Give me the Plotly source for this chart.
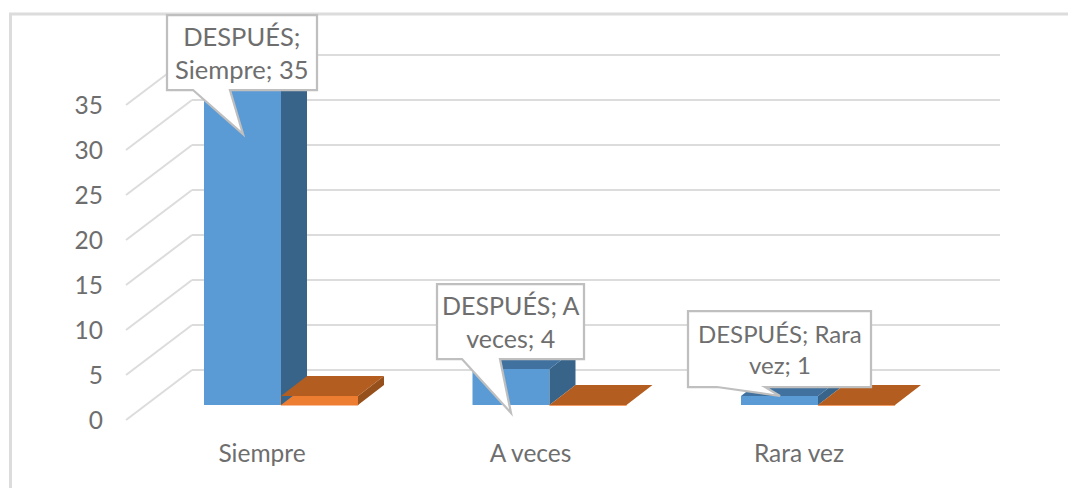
import plotly.graph_objects as go

# ---- data ----
categories = ["Siempre", "A veces", "Rara vez"]
despues = [35, 4, 1]
antes = [1, 0, 0]
axis_ticks = [0, 5, 10, 15, 20, 25, 30, 35]
callout_lines = ["DESPUÉS;<br>Siempre; 35", "DESPUÉS; A<br>veces; 4", "DESPUÉS; Rara<br>vez; 1"]

# ---- layout geometry (pixels of the 1068x488 page) ----
W, H = 1068, 488
PLOT_BOTTOM = 436
CAT_X0, CAT_STEP = 262, 268.5
ZERO_Y, ZERO_Y_AXIS, UNIT = 405, 420, 9

def xd(px):
    return (px - CAT_X0) / CAT_STEP

def xp(px):
    return px / W

def yp(py):
    return 1 - py / PLOT_BOTTOM

BAR_W = 77 / CAT_STEP
BLUE_OFF = xd(204)
ORANGE_OFF = xd(281)
DX = 26 / CAT_STEP
DY = 20 / UNIT
WALL_FRONT = xd(126)
WALL_BACK = xd(192)
WALL_END = xd(1000)
WALL_RISE = 50 / UNIT

FONT = "Lato, Carlito, Calibri, sans-serif"
TXT = "#6e6e6e"
GRID = "#dcdcdc"


def faces(values, offset):
    sx, sy, tx, ty = [], [], [], []
    for i, v in enumerate(values):
        x0 = i + offset
        x1 = x0 + BAR_W
        sx += [x1, x1, x1 + DX, x1 + DX, x1, None]
        sy += [0, v, v + DY, DY, 0, None]
        tx += [x0, x1, x1 + DX, x0 + DX, x0, None]
        ty += [v, v, v + DY, v + DY, v, None]
    return sx, sy, tx, ty


def poly(x, y, color, name):
    return go.Scatter(x=x, y=y, mode="lines", fill="toself", fillcolor=color,
                      line=dict(width=0, color=color), name=name,
                      hoverinfo="skip", showlegend=False)


fig = go.Figure()

# wall edges (left side diagonals), on the axis that carries the tick labels
dx_, dy_ = [], []
for t in axis_ticks:
    dx_ += [WALL_FRONT, WALL_BACK, None]
    dy_ += [t, t + WALL_RISE, None]
fig.add_trace(go.Scatter(x=dx_, y=dy_, yaxis="y2", mode="lines",
                         line=dict(color=GRID, width=2), hoverinfo="skip", showlegend=False))

# front faces
xs = list(range(len(categories)))
fig.add_trace(go.Bar(x=xs, y=despues, offset=BLUE_OFF, width=BAR_W, name="DESPUÉS",
                     marker=dict(color="#5b9bd5", line=dict(width=0))))
fig.add_trace(go.Bar(x=xs, y=antes, offset=ORANGE_OFF, width=BAR_W, name="ANTES",
                     marker=dict(color="#ed7d31", line=dict(width=1, color="#ed7d31"))))

# depth faces
sx, sy, tx, ty = faces(despues, BLUE_OFF)
fig.add_trace(poly(sx, sy, "#38648a", "DESPUÉS lado"))
fig.add_trace(poly(tx, ty, "#41729f", "DESPUÉS arriba"))
sx, sy, tx, ty = faces(antes, ORANGE_OFF)
fig.add_trace(poly(sx, sy, "#96501c", "ANTES lado"))
fig.add_trace(poly(tx, ty, "#b35e20", "ANTES arriba"))

shapes = []
# back-wall gridlines
for t in axis_ticks:
    yy = t + WALL_RISE
    shapes.append(dict(type="line", layer="below", xref="x", yref="y2",
                       x0=WALL_BACK, x1=WALL_END, y0=yy, y1=yy,
                       line=dict(color=GRID, width=2)))

# outer frame
shapes.append(dict(type="path", xref="paper", yref="paper", layer="below",
                   path=f"M {xp(10.5)} {yp(488)} L {xp(10.5)} {yp(14)} L {xp(1068)} {yp(14)}",
                   line=dict(color="#dcdcdc", width=3)))

# callout boxes: left, top, right, bottom, tail base left, tail base right, tip x, tip y
boxes = [
    (167, 15, 317, 90, 193, 230, 243, 134),
    (437, 284, 584, 359, 462, 500, 511, 413),
    (688, 311, 871, 387, 717, 765, 780, 396),
]
label_sizes = [25.5, 25, 24]
for (l, t, r, b, bl, br, tx_, ty_) in boxes:
    pts = [(l, t), (r, t), (r, b), (br, b), (tx_, ty_), (bl, b), (l, b)]
    path = "M " + " L ".join(f"{xp(a)} {yp(c)}" for a, c in pts) + " Z"
    shapes.append(dict(type="path", xref="paper", yref="paper", layer="above", path=path,
                       fillcolor="white", line=dict(color="#bfbfbf", width=2.25)))

annotations = [
    dict(text=text, xref="paper", yref="paper", x=xp((b[0] + b[2]) / 2), y=yp((b[1] + b[3]) / 2),
         xanchor="center", yanchor="middle", showarrow=False, align="center",
         font=dict(family=FONT, size=s, color=TXT))
    for text, b, s in zip(callout_lines, boxes, label_sizes)
]

fig.update_layout(
    width=W, height=H, autosize=False,
    margin=dict(l=0, r=0, t=0, b=H - PLOT_BOTTOM),
    paper_bgcolor="white", plot_bgcolor="white",
    barmode="overlay", showlegend=False,
    shapes=shapes, annotations=annotations,
    xaxis=dict(range=[xd(0), xd(W)], tickmode="array", tickvals=xs, ticktext=categories,
               showgrid=False, zeroline=False, showline=False, ticks="",
               tickfont=dict(family=FONT, size=24.5, color=TXT)),
    yaxis=dict(range=[(ZERO_Y - PLOT_BOTTOM) / UNIT, ZERO_Y / UNIT], visible=False,
               showgrid=False, zeroline=False),
    yaxis2=dict(range=[(ZERO_Y_AXIS - PLOT_BOTTOM) / UNIT, ZERO_Y_AXIS / UNIT],
                overlaying="y", anchor="free", position=xp(103), side="left",
                tickmode="array", tickvals=axis_ticks, showgrid=False, zeroline=False,
                showline=False, ticks="",
                tickfont=dict(family=FONT, size=24.5, color=TXT)),
)

fig.write_html("out.html", config={"displayModeBar": False},
               post_script="document.body.style.margin='0';document.documentElement.style.overflow='hidden';")
